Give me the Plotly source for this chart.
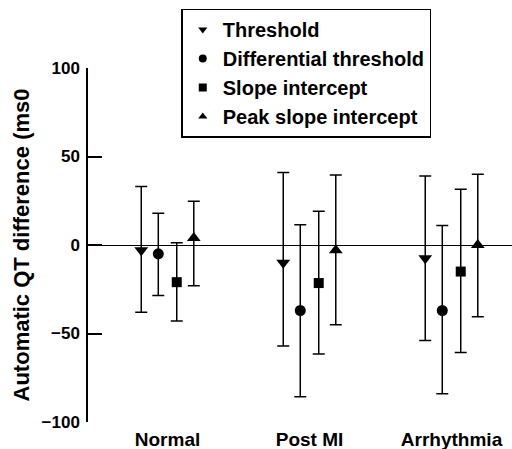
import plotly.graph_objects as go

categories = ["Normal", "Post MI", "Arrhythmia"]
series_names = ["Threshold", "Differential threshold", "Slope intercept", "Peak slope intercept"]
symbols = ["triangle-down", "circle", "square", "triangle-up"]

# mean, upper limit, lower limit for each series (per category)
means = {
    "Threshold": [-3, -10, -7.5],
    "Differential threshold": [-5, -37, -37],
    "Slope intercept": [-21, -21.5, -15],
    "Peak slope intercept": [4, -3, 0],
}
upper = {
    "Threshold": [33, 41, 39],
    "Differential threshold": [18, 11.5, 11],
    "Slope intercept": [1.3, 19, 31.5],
    "Peak slope intercept": [24.7, 39.5, 40],
}
lower = {
    "Threshold": [-38, -57, -54],
    "Differential threshold": [-28.6, -85.7, -84],
    "Slope intercept": [-43, -61.6, -60.8],
    "Peak slope intercept": [-23, -45, -40.5],
}
offsets = [-0.185, -0.065, 0.065, 0.185]
marker_sizes = [12, 11, 10, 12]

FONT = "Liberation Sans"

fig = go.Figure()
for name, sym, off, ms in zip(series_names, symbols, offsets, marker_sizes):
    m = means[name]
    xs = [i + off for i in range(len(categories))]
    fig.add_trace(go.Scatter(
        x=xs, y=m, mode="markers", name=name, showlegend=False,
        marker=dict(symbol=sym, size=ms, color="black"),
        error_y=dict(type="data", symmetric=False,
                     array=[u - v for u, v in zip(upper[name], m)],
                     arrayminus=[v - l for v, l in zip(m, lower[name])],
                     color="black", thickness=1.5, width=6),
    ))
# legend entries (smaller symbols, as in the reference key)
for name, sym in zip(series_names, symbols):
    fig.add_trace(go.Scatter(
        x=[None], y=[None], mode="markers", name=name,
        marker=dict(symbol=sym, size=8, color="black"),
    ))

fig.update_layout(
    width=512, height=449,
    margin=dict(l=88, r=0, t=68, b=27, autoexpand=False),
    paper_bgcolor="white", plot_bgcolor="white",
    font=dict(family=FONT, size=17, color="black", weight="bold"),
    showlegend=True,
    legend=dict(x=0.22, y=1.168, xanchor="left", yanchor="top",
                bgcolor="white", bordercolor="black", borderwidth=1.5,
                font=dict(family=FONT, size=20, color="black", weight="bold"),
                itemwidth=30, tracegroupgap=0),
    xaxis=dict(range=[-0.56, 2.426], tickvals=[0, 1, 2], ticktext=categories,
               tickfont=dict(family=FONT, size=19, weight="bold"),
               ticklabelstandoff=4, automargin=False,
               showgrid=False, zeroline=False, showline=False, ticks=""),
    yaxis=dict(range=[-100, 100], tickvals=[-100, -50, 0, 50, 100],
               tickfont=dict(family=FONT, size=17, weight="bold"),
               ticklabelstandoff=3, automargin=False,
               showgrid=False, zeroline=True, zerolinecolor="black", zerolinewidth=1,
               showline=True, linecolor="black", linewidth=1.5,
               ticks="inside", ticklen=14, tickwidth=1.5, tickcolor="black",
               title=dict(text="Automatic QT difference (ms0",
                          font=dict(family=FONT, size=22, weight="bold"), standoff=6)),
)

fig.write_html("out.html", config={"displayModeBar": False},
               post_script="document.body.style.margin='0';document.body.style.padding='0';")
